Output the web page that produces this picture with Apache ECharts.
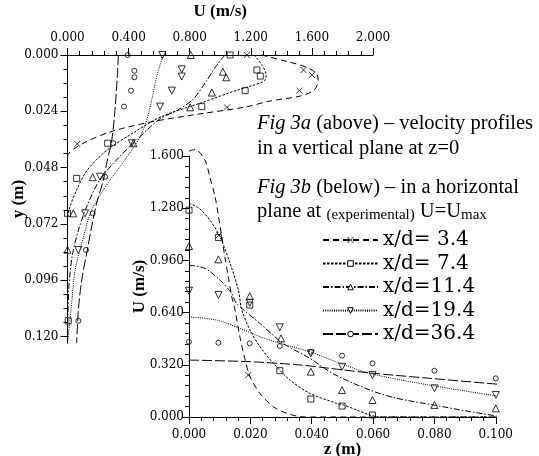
<!DOCTYPE html>
<html><head><meta charset="utf-8">
<script src="https://cdn.jsdelivr.net/npm/echarts@6/dist/echarts.min.js"></script>
<style>html,body{margin:0;padding:0;background:#fff}#c{width:539px;height:456px}</style>
</head><body><div id="c"></div>
<script>
// ---------- Fig 3a : U (m/s) vs y (m), vertical plane z=0 ----------
const seriesNames = ['x/d= 3.4', 'x/d= 7.4', 'x/d=11.4', 'x/d=19.4', 'x/d=36.4'];
const topXTicks = [0, 0.4, 0.8, 1.2, 1.6, 2.0];
const topYTicks = [0, 0.024, 0.048, 0.072, 0.096, 0.120];
const botXTicks = [0, 0.02, 0.04, 0.06, 0.08, 0.1];
const botYTicks = [0, 0.32, 0.64, 0.96, 1.28, 1.6];

// model curves [U, y]
const a_curve_34 = [[1.27,0],[1.445,0.0029],[1.556,0.005],[1.628,0.0077],[1.641,0.0107],[1.615,0.0149],[1.524,0.0175],[1.327,0.0196],[1.163,0.0222],[0.868,0.0251],[0.541,0.0286],[0.279,0.0328],[0.082,0.0384],[0,0.0435],[0,0.1228]];
const a_curve_74 = [[1.22,0],[1.27,0.004],[1.30,0.0085],[1.29,0.011],[1.21,0.013],[1.11,0.015],[0.87,0.0205],[0.61,0.0264],[0.43,0.0332],[0.26,0.0405],[0.13,0.049],[0.06,0.0575],[0.01,0.066],[0,0.072],[0,0.1228]];
const a_curve_114 = [[1.03,0],[0.97,0.005],[0.90,0.012],[0.82,0.019],[0.72,0.0235],[0.61,0.027],[0.52,0.032],[0.43,0.0376],[0.32,0.0448],[0.21,0.0533],[0.13,0.064],[0.07,0.075],[0.03,0.086],[0.008,0.1],[0,0.1228]];
const a_curve_194 = [[0.626,0],[0.584,0.0092],[0.552,0.019],[0.519,0.0277],[0.475,0.0349],[0.42,0.0405],[0.344,0.0476],[0.278,0.0533],[0.158,0.0661],[0.104,0.0776],[0.05,0.0917],[0.027,0.106],[0,0.1228]];
const a_curve_364 = [[0.333,0],[0.326,0.0092],[0.311,0.0234],[0.29,0.0362],[0.257,0.046],[0.235,0.0533],[0.191,0.0631],[0.158,0.0733],[0.126,0.0844],[0.093,0.096],[0.071,0.1087],[0.06,0.1228]];
// experimental points [U, y]
const a_pts_34 = [[1.174,0],[1.545,0.0064],[1.60,0.0085],[1.519,0.0152],[1.045,0.0223],[0.064,0.0379]];
const a_pts_74 = [[1.065,0],[1.24,0.0064],[1.262,0.009],[1.163,0.0152],[0.879,0.022],[0.263,0.0376],[0.06,0.0526],[0.0,0.0675],[0.005,0.1133]];
const a_pts_114 = [[0.807,0],[1.017,0.0071],[1.039,0.0095],[0.945,0.016],[0.803,0.0223],[0.431,0.0376],[0.165,0.0521],[0.038,0.0675],[0.0,0.083]];
const a_pts_194 = [[0.621,0],[0.748,0.0061],[0.748,0.0092],[0.683,0.0152],[0.606,0.022],[0.421,0.0376],[0.213,0.0519],[0.115,0.0675],[0.071,0.0831]];
const a_pts_364 = [[0.394,0],[0.438,0.0067],[0.438,0.0095],[0.416,0.0152],[0.37,0.022],[0.30,0.0376],[0.246,0.0519],[0.165,0.0675],[0.121,0.0831],[0.071,0.1133]];

// ---------- Fig 3b : U (m/s) vs z (m), horizontal plane ----------
// model curves [z, U]
const b_curve_34 = [[0,1.63],[0.002,1.64],[0.0052,1.575],[0.0068,1.47],[0.0085,1.35],[0.0096,1.23],[0.0107,1.105],[0.0117,0.98],[0.0128,0.86],[0.0139,0.74],[0.015,0.656],[0.0166,0.49],[0.0183,0.35],[0.0199,0.247],[0.0231,0.145],[0.0275,0.063],[0.0318,0.023],[0.0351,0.006],[0.038,0],[0.1,0]];
const b_curve_74 = [[0,1.31],[0.0033,1.279],[0.0068,1.207],[0.0101,1.105],[0.0134,0.942],[0.0161,0.778],[0.0172,0.656],[0.0199,0.533],[0.0231,0.431],[0.0275,0.329],[0.0329,0.227],[0.0394,0.145],[0.0481,0.084],[0.0503,0.074],[0.0547,0.043],[0.059,0.012],[0.0623,0],[0.1,0]];
const b_curve_114 = [[0,0.931],[0.0052,0.911],[0.0101,0.839],[0.0139,0.758],[0.0155,0.697],[0.0231,0.574],[0.0307,0.451],[0.0394,0.36],[0.047,0.265],[0.059,0.165],[0.0677,0.115],[0.0796,0.074],[0.0916,0.033],[0.1003,0.006]];
const b_curve_194 = [[0,0.614],[0.009,0.594],[0.0166,0.543],[0.0232,0.492],[0.0297,0.451],[0.0394,0.40],[0.047,0.345],[0.059,0.267],[0.0782,0.196],[0.1003,0.129]];
const b_curve_364 = [[0,0.349],[0.0199,0.339],[0.0362,0.319],[0.046,0.298],[0.0601,0.268],[0.0786,0.237],[0.1036,0.196]];
// experimental points [z, U]
const b_pts_34 = [[0,1.605],[0.0098,1.115],[0.0193,0.257]];
const b_pts_74 = [[0,1.268],[0.0096,1.10],[0.0198,0.686],[0.0296,0.284],[0.0397,0.11],[0.0499,0.067],[0.0598,0.012]];
const b_pts_114 = [[0,1.048],[0.0096,0.966],[0.0198,0.741],[0.03,0.482],[0.0397,0.278],[0.0499,0.165],[0.0598,0.104],[0.08,0.074],[0.1,0.053]];
const b_pts_194 = [[0,0.774],[0.0096,0.748],[0.0198,0.70],[0.0296,0.55],[0.0397,0.39],[0.0499,0.308],[0.0598,0.257],[0.08,0.176],[0.1,0.135]];
const b_pts_364 = [[0,0.461],[0.0096,0.455],[0.0198,0.451],[0.0296,0.435],[0.0397,0.40],[0.0499,0.376],[0.0598,0.329],[0.08,0.284],[0.1,0.237]];

const topCurves = [a_curve_34, a_curve_74, a_curve_114, a_curve_194, a_curve_364];
const topPts = [a_pts_34, a_pts_74, a_pts_114, a_pts_194, a_pts_364];
const botCurves = [b_curve_34, b_curve_74, b_curve_114, b_curve_194, b_curve_364];
const botPts = [b_pts_34, b_pts_74, b_pts_114, b_pts_194, b_pts_364];

const SERIF = '"DejaVu Serif", serif';
const TIMES = '"Liberation Serif", "Times New Roman", serif';
const dashes = [[6,4],[2.5,1.5],[6,2,1.5,2],[1,1.2],[10,3]];
const symbols = ['path://M0,0L10,10M10,0L0,10', 'rect', 'path://M5,0L10,9L0,9Z', 'path://M0,0L10,0L5,9Z', 'circle'];
const symSizes = [6, 6, 7, 7, 5];
const hollow = {color: 'rgba(0,0,0,0)', borderColor: '#000', borderWidth: 1};

const series = [];
for (let i = 0; i < 5; i++) {
  const ls = {color: '#000', width: 1, type: dashes[i]};
  series.push({type: 'line', name: seriesNames[i], xAxisIndex: 0, yAxisIndex: 0, data: topCurves[i],
    showSymbol: false, symbol: symbols[i], symbolSize: symSizes[i], smooth: 0.3, lineStyle: ls, itemStyle: hollow, clip: false, silent: true, z: 2});
  series.push({type: 'scatter', name: 'a' + i, xAxisIndex: 0, yAxisIndex: 0, data: topPts[i],
    symbol: symbols[i], symbolSize: symSizes[i], itemStyle: hollow, silent: true, z: 3});
  series.push({type: 'line', name: seriesNames[i], xAxisIndex: 1, yAxisIndex: 1, data: botCurves[i],
    showSymbol: false, symbol: symbols[i], symbolSize: symSizes[i], smooth: 0.3, lineStyle: ls, itemStyle: hollow, clip: false, silent: true, z: 2});
  series.push({type: 'scatter', name: 'b' + i, xAxisIndex: 1, yAxisIndex: 1, data: botPts[i],
    symbol: symbols[i], symbolSize: symSizes[i], itemStyle: hollow, silent: true, z: 3});
}

const axisCommon = {
  axisLine: {show: true, onZero: false, lineStyle: {color: '#000', width: 1}},
  axisTick: {show: true, inside: false, length: 7, lineStyle: {color: '#000'}},
  minorTick: {show: true, splitNumber: 5, length: 4, lineStyle: {color: '#000'}},
  splitLine: {show: false},
  nameMoveOverlap: false,
  axisLabel: {color: '#000', fontFamily: SERIF, fontSize: 12, formatter: v => v.toFixed(3)},
  nameTextStyle: {color: '#000', fontFamily: TIMES, fontWeight: 'bold', fontSize: 17}
};
function ax(extra) { return echarts.util.merge(echarts.util.clone(axisCommon), extra, true); }

const chart = echarts.init(document.getElementById('c'));
chart.setOption({
  animation: false,
  backgroundColor: '#fff',
  grid: [
    {left: 67.5, top: 55, width: 305.5, height: 288.1, outerBoundsMode: 'none', containLabel: false},
    {left: 189, top: 156, width: 306.8, height: 261, outerBoundsMode: 'none', containLabel: false}
  ],
  xAxis: [
    ax({type: 'value', gridIndex: 0, position: 'top', min: 0, max: 2, interval: 0.4,
      name: 'U (m/s)', nameLocation: 'middle', nameGap: 35,
      axisLabel: {margin: 11}}),
    ax({type: 'value', gridIndex: 1, position: 'bottom', min: 0, max: 0.1, interval: 0.02,
      name: 'z (m)', nameLocation: 'middle', nameGap: 24, axisLabel: {margin: 12}})
  ],
  yAxis: [
    ax({type: 'value', gridIndex: 0, position: 'left', inverse: true, min: 0, max: 0.1228, interval: 0.024,
      name: 'y (m)', nameLocation: 'middle', nameGap: 40, nameRotate: 90,
      minorTick: {splitNumber: 4},
      axisLabel: {margin: 9, customValues: topYTicks},
      axisTick: {customValues: topYTicks}}),
    ax({type: 'value', gridIndex: 1, position: 'left', min: 0, max: 1.6, interval: 0.32,
      name: 'U (m/s)', nameLocation: 'middle', nameGap: 41, nameRotate: 90,
      axisLabel: {margin: 5}})
  ],
  legend: {
    data: seriesNames, orient: 'vertical', left: 322, top: 230, padding: 0,
    itemWidth: 55, itemHeight: 7, itemGap: 3.5, selectedMode: false,
    itemStyle: {color: '#fff', borderColor: '#000', borderWidth: 1},
    textStyle: {color: '#000', fontFamily: SERIF, fontSize: 20, lineHeight: 20}
  },
  graphic: [
    {type: 'text', x: 257, y: 124, style: {text: '{i|Fig 3a} (above) – velocity profiles', fill: '#000',
      font: '20.5px ' + TIMES, verticalAlign: 'middle',
      rich: {i: {fontStyle: 'italic', fontSize: 20.5, fontFamily: TIMES}}}},
    {type: 'text', x: 257, y: 149, style: {text: 'in a vertical plane at z=0', fill: '#000',
      font: '20.5px ' + TIMES, verticalAlign: 'middle'}},
    {type: 'text', x: 257, y: 188, style: {text: '{i|Fig 3b} (below) – in a horizontal', fill: '#000',
      font: '20.5px ' + TIMES, verticalAlign: 'middle',
      rich: {i: {fontStyle: 'italic', fontSize: 20.5, fontFamily: TIMES}}}},
    {type: 'text', x: 257, y: 212, style: {text: 'plane at {s|(experimental)} U=U{sub|max}', fill: '#000',
      font: '20.5px ' + TIMES, verticalAlign: 'middle',
      rich: {
        s: {fontSize: 15, fontFamily: TIMES, verticalAlign: 'bottom', lineHeight: 22},
        sub: {fontSize: 15, fontFamily: TIMES, verticalAlign: 'bottom', lineHeight: 16, padding: [7, 0, 0, 0]}
      }}}
  ],
  series: series
});
</script></body></html>
